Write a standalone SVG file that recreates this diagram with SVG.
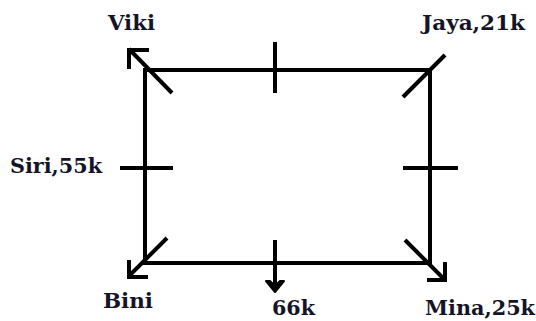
<svg xmlns="http://www.w3.org/2000/svg" width="536" height="321" viewBox="0 0 536 321">
<style>
.ln{stroke:#000;stroke-width:4;fill:none;stroke-linecap:butt}
.hd{stroke:#000;stroke-width:4;fill:none;stroke-linecap:square;stroke-linejoin:miter}
.lb{font-family:"DejaVu Serif","Liberation Serif",serif;font-weight:bold;font-size:20px;fill:#141428}
</style>
<rect width="536" height="321" fill="#fff"/>
<g id="connectors">
  <path class="ln" d="M143,70 H432 M145,68 V265 M143,263 H432 M430,68 V265"/>
  <!-- ticks -->
  <path class="ln" d="M275,42 V93 M120,168 H173 M403,168 H458"/>
  <path class="ln" d="M275,240 V288"/>
  <path d="M266,281 L275,292 L284,281 L280,281 L275,286 L270,281 Z" fill="#000" stroke="#000" stroke-width="2" stroke-linejoin="round"/>
  <!-- corner diagonals -->
  <path class="ln" d="M129,49 L172,93"/>
  <path class="hd" d="M147,50 H129 V67"/>
  <path class="ln" d="M403,97 L445,55"/>
  <path class="ln" d="M129,276 L167,238"/>
  <path class="hd" d="M129,262 V277 H146"/>
  <path class="ln" d="M405,240 L444,279"/>
  <path class="hd" d="M445,264 V280 H429"/>
</g>
<g id="viki"><text class="lb" x="108" y="30" textLength="47" lengthAdjust="spacingAndGlyphs">Viki</text></g>
<g id="jaya"><text class="lb" x="422" y="30" textLength="103" lengthAdjust="spacingAndGlyphs">Jaya,21k</text></g>
<g id="siri"><text class="lb" x="10" y="173" textLength="92" lengthAdjust="spacingAndGlyphs">Siri,55k</text></g>
<g id="bini"><text class="lb" x="103" y="308" textLength="50" lengthAdjust="spacingAndGlyphs">Bini</text></g>
<g id="total"><text class="lb" x="272" y="315" textLength="43" lengthAdjust="spacingAndGlyphs">66k</text></g>
<g id="mina"><text class="lb" x="425" y="315" textLength="110" lengthAdjust="spacingAndGlyphs">Mina,25k</text></g>
</svg>
